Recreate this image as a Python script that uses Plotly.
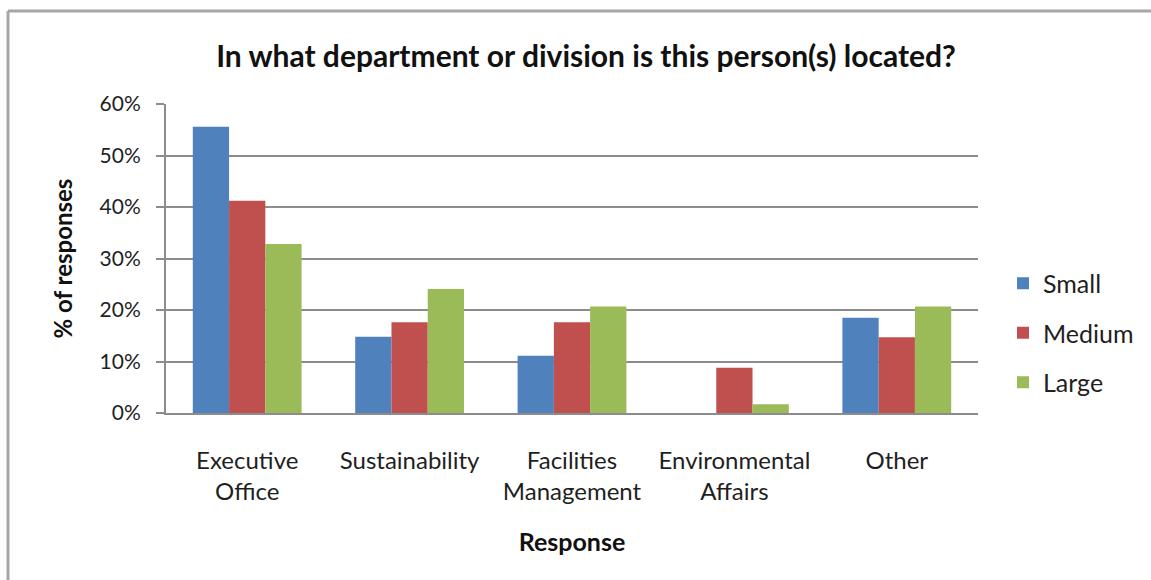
import plotly.graph_objects as go

# Survey results: share of responses by organisation size
categories = ["Executive<br>Office", "Sustainability", "Facilities<br>Management",
              "Environmental<br>Affairs", "Other"]
small = [55.6, 14.8, 11.1, 0.0, 18.5]
medium = [41.2, 17.6, 17.6, 8.8, 14.7]
large = [32.8, 24.1, 20.7, 1.7, 20.7]
y_ticks = [0, 10, 20, 30, 40, 50, 60]

W, H = 1151, 580
L, R, T, B = 166, 173, 104, 167
pw, ph = W - L - R, H - T - B

FONT = "Lato"
TXT = "#1f1f1f"

fig = go.Figure()
for name, vals, col in [("Small", small, "#4F81BD"),
                        ("Medium", medium, "#C0504D"),
                        ("Large", large, "#9BBB59")]:
    fig.add_trace(go.Bar(
        x=categories, y=[v / 100 for v in vals], name=name,
        marker=dict(color=col, line=dict(width=0)),
        legendgroup=name,
    ))

def px_x(x):
    return (x - L) / pw

def px_y(y):
    return (H - B - y) / ph

# outer frame lines (top and left edges)
shapes = [
    dict(type="line", xref="paper", yref="paper",
         x0=px_x(8), x1=px_x(W + 5), y0=px_y(11), y1=px_y(11),
         line=dict(color="#a6a6a6", width=3)),
    dict(type="line", xref="paper", yref="paper",
         x0=px_x(8), x1=px_x(8), y0=px_y(11), y1=px_y(H + 5),
         line=dict(color="#a6a6a6", width=3)),
]

fig.update_layout(
    width=W, height=H,
    margin=dict(l=L, r=R, t=T, b=B, autoexpand=False),
    paper_bgcolor="white", plot_bgcolor="white",
    font=dict(family=FONT, color=TXT, size=22),
    title=dict(text="<b>In what department or division is this person(s) located?</b>",
               x=586 / W, xanchor="center", y=1 - 56 / H, yanchor="middle",
               font=dict(size=30, color="#111111")),
    barmode="group", bargap=0.33, bargroupgap=0,
    showlegend=True,
    legend=dict(x=px_x(1003), xanchor="left", y=px_y(333), yanchor="middle",
                font=dict(size=25, color=TXT), tracegroupgap=14,
                itemwidth=30, bgcolor="rgba(0,0,0,0)"),
    shapes=shapes,
    xaxis=dict(
        showline=True, linecolor="#8c8c8c", linewidth=2,
        ticks="", showgrid=False, tickfont=dict(size=24, color=TXT),
        ticklabelstandoff=25,
        title=dict(text="<b>Response</b>", font=dict(size=25, color="#111111"), standoff=29),
    ),
    yaxis=dict(
        range=[0, 0.6], tickvals=[v / 100 for v in y_ticks],
        ticktext=[f"{v}%" for v in y_ticks],
        showline=True, linecolor="#8c8c8c", linewidth=2,
        ticks="outside", ticklen=8, tickcolor="#8c8c8c", tickwidth=2,
        ticklabelstandoff=11,
        showgrid=True, gridcolor="#8c8c8c", gridwidth=2,
        zeroline=False, tickfont=dict(size=21, color=TXT),
        title=dict(text="<b>% of responses</b>", font=dict(size=24, color="#111111"), standoff=20),
    ),
)

fig.write_html("out.html")
